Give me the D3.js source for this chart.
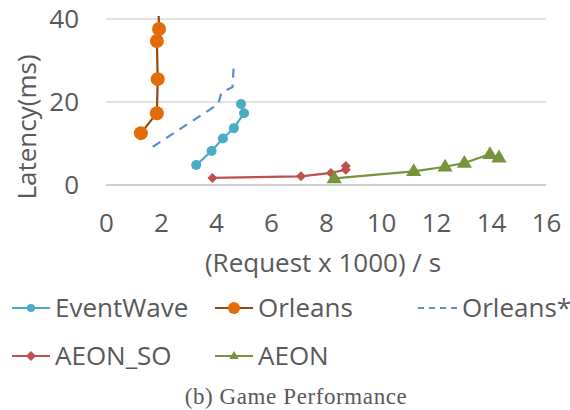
<!DOCTYPE html>
<html>
<head>
<meta charset="utf-8">
<script src="https://cdn.jsdelivr.net/npm/d3@7"></script>
<style>
  body { margin: 0; background: #fff; }
  text { font-family: "Open Sans", Lato, sans-serif; fill: #595959; }
</style>
</head>
<body>
<svg width="570" height="410"></svg>
<script>
// series data: [requests x1000 / s, latency ms]
var eventWave = [[3.28, 4.8], [3.84, 8.2], [4.25, 11.2], [4.65, 13.7], [5.02, 17.3], [4.91, 19.5]];
var orleans = [[1.27, 12.5], [1.85, 17.3], [1.88, 25.5], [1.85, 34.7], [1.93, 37.6], [1.88, 48]];
var orleansStar = [[1.7, 9.2], [4.08, 19.5], [4.2, 22.3], [4.6, 23.6], [4.65, 29.5]];
var aeonSO = [[3.87, 1.7], [7.09, 2.1], [8.18, 2.9], [8.72, 3.7], [8.72, 4.6]];
var aeon = [[8.3, 1.6], [11.19, 3.3], [12.33, 4.4], [13.03, 5.3], [13.96, 7.4], [14.29, 6.6]];

var xTicks = [0, 2, 4, 6, 8, 10, 12, 14, 16];
var yTicks = [0, 20, 40];

var series = [
  { name: "EventWave", data: eventWave, line: "#4BACC6", fill: "#4BACC6", marker: "circle", size: 5, dash: null },
  { name: "Orleans", data: orleans, line: "#984807", fill: "#E36C09", marker: "circle", size: 7, dash: null },
  { name: "Orleans*", data: orleansStar, line: "#558ED5", fill: null, marker: null, dash: "9,7" },
  { name: "AEON_SO", data: aeonSO, line: "#C0504D", fill: "#C0504D", marker: "diamond", size: 5, dash: null },
  { name: "AEON", data: aeon, line: "#77933C", fill: "#77933C", marker: "triangle", size: 8, dash: null }
];

var svg = d3.select("svg");
var pLeft = 106, pRight = 546, pTop = 19, pBottom = 185;
var fs = 26;

var x = d3.scaleLinear().domain([0, 16]).range([pLeft, pRight]);
var y = d3.scaleLinear().domain([0, 40]).range([pBottom, pTop]);

svg.append("clipPath").attr("id", "plot")
  .append("rect").attr("x", pLeft - 10).attr("y", pTop - 3)
  .attr("width", pRight - pLeft + 20).attr("height", pBottom - pTop + 13);

// gridlines
svg.append("g").selectAll("line").data(yTicks).enter().append("line")
  .attr("x1", pLeft).attr("x2", pRight)
  .attr("y1", function(d) { return y(d); }).attr("y2", function(d) { return y(d); })
  .attr("stroke", function(d) { return d === 0 ? "#BFBFBF" : "#D9D9D9"; })
  .attr("stroke-width", 1.3);

// axes
var yAxis = svg.append("g").attr("transform", "translate(79,0)")
  .call(d3.axisLeft(y).tickValues(yTicks).tickSize(0).tickPadding(0));
var xAxis = svg.append("g").attr("transform", "translate(0,214)")
  .call(d3.axisBottom(x).tickValues(xTicks).tickSize(0).tickPadding(0));
[yAxis, xAxis].forEach(function(a) {
  a.select(".domain").remove();
  a.selectAll("text").attr("font-size", fs).attr("fill", "#595959")
    .style("font-family", "'Open Sans', sans-serif");
});

svg.append("text").attr("transform", "translate(27,127) rotate(-90)").attr("dy", "0.35em")
  .attr("text-anchor", "middle").attr("font-size", fs).text("Latency(ms)");
svg.append("text").attr("x", (pLeft + pRight) / 2 - 3).attr("y", 263).attr("dy", "0.35em")
  .attr("text-anchor", "middle").attr("font-size", fs).text("(Request x 1000) / s");

var line = d3.line().x(function(d) { return x(d[0]); }).y(function(d) { return y(d[1]); });

function markerPath(type, s) {
  if (type === "circle") return d3.symbol(d3.symbolCircle, Math.PI * s * s)();
  if (type === "diamond") return "M0," + (-s) + "L" + s + ",0L0," + s + "L" + (-s) + ",0Z";
  if (type === "triangle") return "M0," + (-s) + "L" + (s * 0.95) + "," + (s * 0.6) + "L" + (-s * 0.95) + "," + (s * 0.6) + "Z";
  return null;
}

var plot = svg.append("g").attr("clip-path", "url(#plot)");
series.forEach(function(s) {
  plot.append("path").datum(s.data)
    .attr("d", line).attr("fill", "none")
    .attr("stroke", s.line).attr("stroke-width", 2.2)
    .attr("stroke-dasharray", s.dash);
  if (s.marker) {
    plot.selectAll(null).data(s.data).enter().append("path")
      .attr("d", markerPath(s.marker, s.size))
      .attr("transform", function(d) { return "translate(" + x(d[0]) + "," + y(d[1]) + ")"; })
      .attr("fill", s.fill);
  }
});

// legend
var legendPos = [[12, 308], [215, 308], [418, 308], [12, 356], [215, 356]];
series.forEach(function(s, i) {
  var g = svg.append("g").attr("transform", "translate(" + legendPos[i][0] + "," + legendPos[i][1] + ")");
  g.append("line").attr("x1", 0).attr("x2", s.dash ? 42 : 38).attr("y1", 0).attr("y2", 0)
    .attr("stroke", s.line).attr("stroke-width", 2.2).attr("stroke-dasharray", s.dash ? "6,5" : null);
  if (s.marker) {
    g.append("path").attr("d", markerPath(s.marker, s.marker === "circle" ? (i === 1 ? 6 : 4) : 5))
      .attr("transform", "translate(19,0)").attr("fill", s.fill);
  }
  g.append("text").attr("x", s.dash ? 44 : 43).attr("y", 0).attr("dy", "0.35em")
    .attr("font-size", fs).text(s.name);
});

svg.append("text").attr("x", 296).attr("y", 396).attr("dy", "0.35em").attr("text-anchor", "middle")
  .attr("font-size", 23).attr("letter-spacing", 0.6)
  .style("font-family", "'Liberation Serif', 'DejaVu Serif', serif")
  .attr("fill", "#111").text("(b) Game Performance");
</script>
</body>
</html>
